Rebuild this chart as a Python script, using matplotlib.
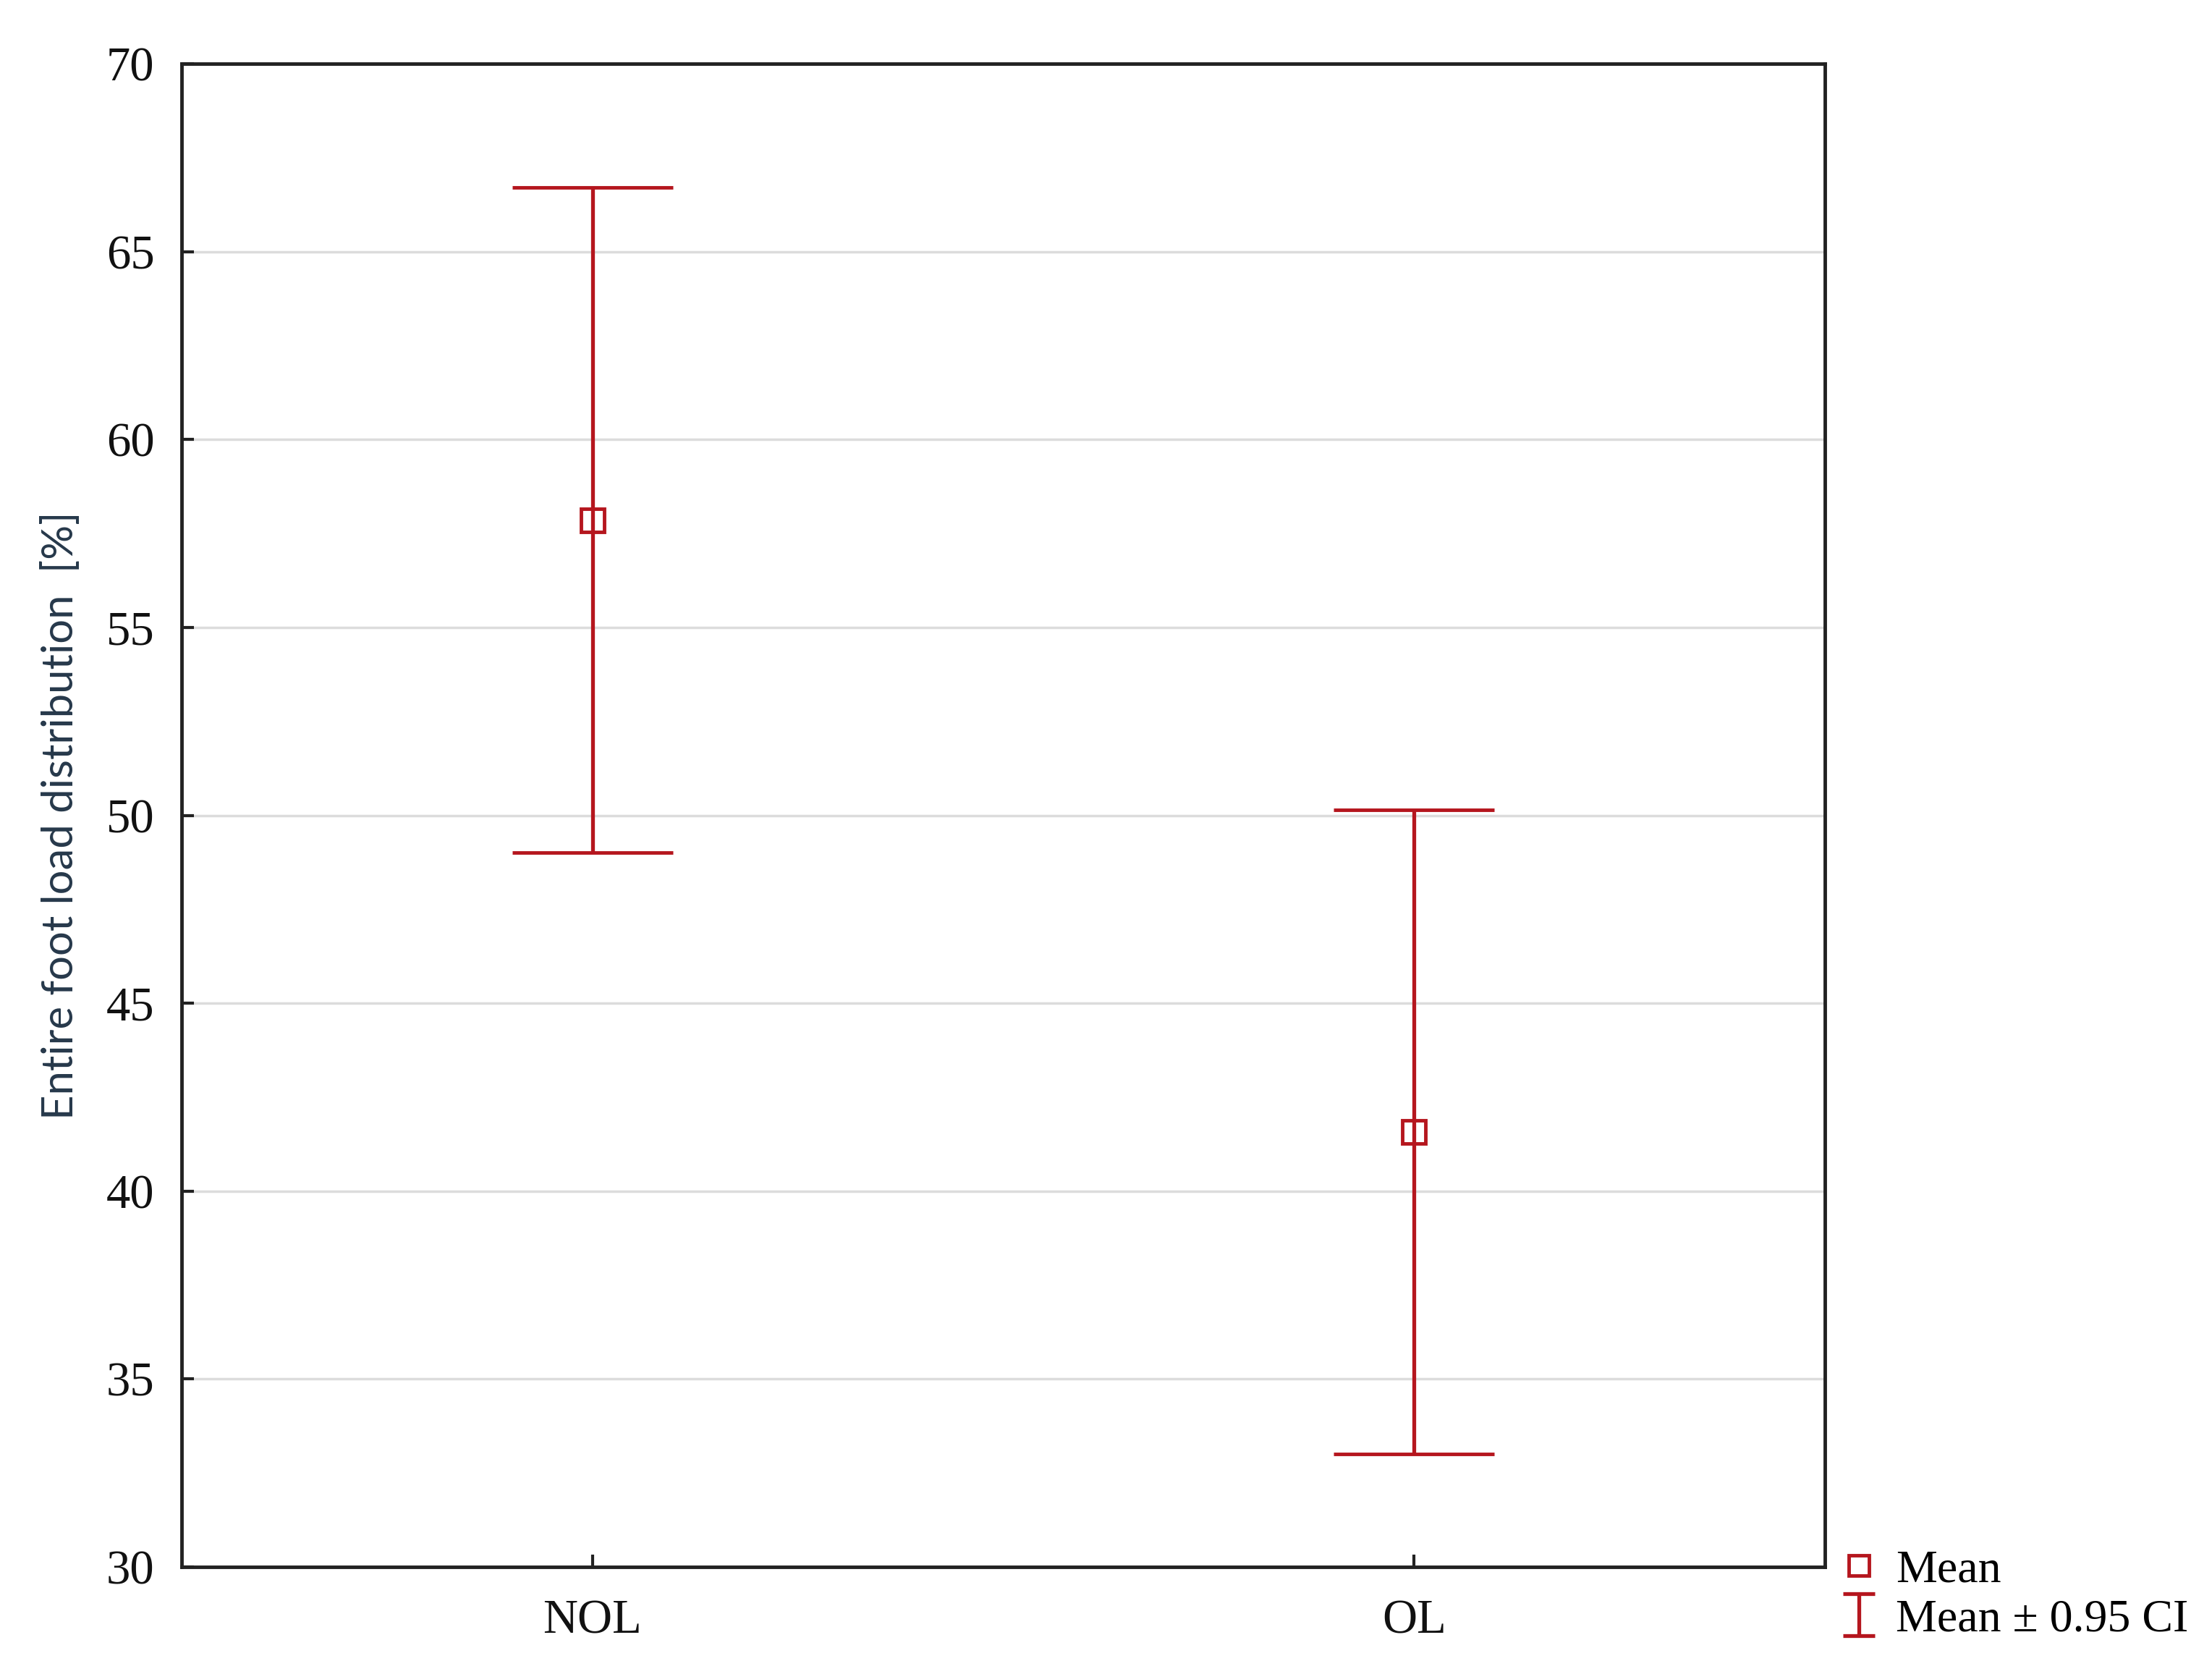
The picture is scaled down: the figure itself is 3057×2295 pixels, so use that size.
import matplotlib
matplotlib.use("Agg")
import matplotlib.pyplot as plt
from matplotlib.lines import Line2D
from matplotlib.legend_handler import HandlerErrorbar
import numpy as np

categories = ["NOL", "OL"]
means = [57.85, 41.57]
ci_lower = [49.0, 33.0]
ci_upper = [66.7, 50.15]
yticks = [30, 35, 40, 45, 50, 55, 60, 65, 70]

red = "#b5161e"
serif = ["Liberation Serif", "DejaVu Serif"]

fig = plt.figure(figsize=(30.57, 22.95), dpi=100)
ax = fig.add_axes([0.0821, 0.0566, 0.825 - 0.0821, 0.9617 - 0.0566])

x = list(range(len(categories)))
yerr = [[m - lo for m, lo in zip(means, ci_lower)], [hi - m for m, hi in zip(means, ci_upper)]]
eb = ax.errorbar(x, means, yerr=yerr, fmt="s", color=red, ecolor=red, elinewidth=3.8,
                 capsize=80, capthick=3.8, markersize=23, markerfacecolor="none",
                 markeredgewidth=3.5, markeredgecolor=red, zorder=3)

# legend-only proxy (NaN data, not drawn)
eb_leg = ax.errorbar([np.nan], [np.nan], yerr=[1], fmt="none", ecolor=red, elinewidth=3.8,
                     capsize=16, capthick=3.8)

ax.set_xlim(-0.5, 1.5)
ax.set_ylim(30, 70)
ax.set_xticks(x)
ax.set_xticklabels(categories)
ax.set_yticks(yticks)
ax.yaxis.grid(True, color="#dcdcdc", linewidth=2.5, zorder=0)
ax.set_axisbelow(True)
for s in ax.spines.values():
    s.set_linewidth(3.5)
    s.set_color("#222222")
ax.tick_params(axis="both", direction="in", length=12, width=3, color="#222222",
               labelsize=48, labelcolor="#111111")
ax.tick_params(axis="y", pad=27)
ax.tick_params(axis="x", pad=32)
for lab in ax.get_xticklabels() + ax.get_yticklabels():
    lab.set_family(serif)

ax.set_ylabel("Entire foot load distribution  [%]", family=["Lato", "DejaVu Sans"],
              fontsize=43, color="#26384a", labelpad=26)

h_mean = Line2D([], [], linestyle="none", marker="s", markersize=20, markerfacecolor="none",
                markeredgewidth=3.5, markeredgecolor=red)
leg = fig.legend([h_mean, eb_leg], ["Mean", "Mean \u00b1 0.95 CI"],
                 loc="lower left", bbox_to_anchor=(0.832, 0.012), frameon=False,
                 prop={"family": serif, "size": 46}, handlelength=0.8, handletextpad=0.4,
                 labelspacing=0.15, borderaxespad=0, borderpad=0,
                 handler_map={type(eb_leg): HandlerErrorbar(yerr_size=0.45)})
fig.savefig("out.png", dpi=100)
